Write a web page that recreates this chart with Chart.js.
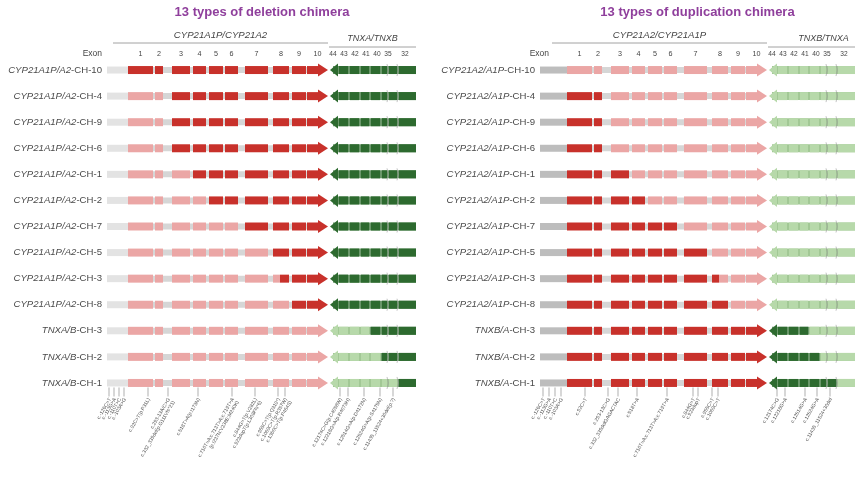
<!DOCTYPE html>
<html>
<head>
<meta charset="utf-8">
<script src="https://cdn.jsdelivr.net/npm/chart.js@4.4.1/dist/chart.umd.min.js"></script>
<style>
  html, body { margin: 0; padding: 0; background: #fff; }
  .panel { position: absolute; top: 0; width: 428px; height: 481px; }
  #left { left: 0; }
  #right { left: 428px; }
</style>
</head>
<body>
<div class="panel" id="left"><canvas id="delChart"></canvas></div>
<div class="panel" id="right"><canvas id="dupChart"></canvas></div>
<script>
// rows, top to bottom
var delRows = ['CYP21A1P/A2-CH-10', 'CYP21A1P/A2-CH-4', 'CYP21A1P/A2-CH-9', 'CYP21A1P/A2-CH-6',
  'CYP21A1P/A2-CH-1', 'CYP21A1P/A2-CH-2', 'CYP21A1P/A2-CH-7', 'CYP21A1P/A2-CH-5',
  'CYP21A1P/A2-CH-3', 'CYP21A1P/A2-CH-8', 'TNXA/B-CH-3', 'TNXA/B-CH-2', 'TNXA/B-CH-1'];
var dupRows = ['CYP21A2/A1P-CH-10', 'CYP21A2/A1P-CH-4', 'CYP21A2/A1P-CH-9', 'CYP21A2/A1P-CH-6',
  'CYP21A2/A1P-CH-1', 'CYP21A2/A1P-CH-2', 'CYP21A2/A1P-CH-7', 'CYP21A2/A1P-CH-5',
  'CYP21A2/A1P-CH-3', 'CYP21A2/A1P-CH-8', 'TNXB/A-CH-3', 'TNXB/A-CH-2', 'TNXB/A-CH-1'];

// gene model (relative units from exon 1 start)
var exonNames = ['1', '2', '3', '4', '5', '6', '7', '8', '9', '10'];
var exonStart = [0, 27, 44, 65, 81, 97, 117, 145, 164, 179];
var exonEnd   = [25, 35, 62, 78, 95, 110, 140, 161, 178, 190];
var arrowTip = 200;
var tnxNames = ['44', '43', '42', '41', '40', '35', '32'];
var tnxStart = [211, 222, 233, 243, 254, 261, 271];
var tnxEnd   = [220, 231, 241, 252, 259, 269, 288];
var tnxMarks = [260, 270];

// junction positions per row (CYP21 part and TNX part)
var delJunction = [-5, 39, 41, 42, 63, 80, 113, 142, 152, 162, 200, 200, 200];
var dupJunction = [-5, 39, 41, 42, 63, 80, 113, 142, 152, 162, 200, 200, 200];
var delTnxJunction = [200, 200, 200, 200, 200, 200, 200, 200, 200, 200, 242, 253, 270];
var dupTnxJunction = [200, 200, 200, 200, 200, 200, 200, 200, 200, 200, 242, 253, 270];

// variants marked under the last row
var delVariants = ['c.-126C>T', 'c.-113G>A', 'c.-110T>C', 'c.-103A>G', 'c.92C>T(p.P31L)',
  'c.293-13A/C>G\nc.332_339del(p.G111Vfs*21)', 'c.518T>A(p.I173N)', 'c.710T>A;c.713T>A;c.719T>A\n(p.I237N;V238E;M240K)',
  'c.844G>T(p.V282L)\nc.923dupT(p.L308Ffs*6)', 'c.955C>T(p.Q319*)', 'c.1069C>T(p.R357W)\nc.1360C>T(p.P454S)',
  'c.12174C>G(p.C4058W)', 'c.12218G>A(p.R4073H)', 'c.12514G>A(p.D4172N)', 'c.12524G>A(p.S4175N)',
  'c.11435_11524+30del(p.?)'];
var delVariantPos = [-19, -14, -9, -4, 20, 40, 70, 104, 127, 150, 157, 212, 220, 236, 252, 265];
var dupVariants = ['c.-126C>T', 'c.-113G>A', 'c.-110T>C', 'c.-103A>G', 'c.92C>T', 'c.293-13C>G',
  'c.332_339delGAGACTAC', 'c.518T>A', 'c.710T>A;c.713T>A;c.719T>A', 'c.844G>T', 'c.923dupT',
  'c.955C>T', 'c.1069C>T', 'c.12174C>G', 'c.12218G>A', 'c.12514G>A', 'c.12524G>A', 'c.11435_11524+30del'];
var dupVariantPos = [-24, -18, -12, -6, 18, 41, 51, 70, 100, 126, 131, 145, 151, 210, 218, 238, 250, 263];

var RED = '#c8312b', PINK = '#eba6a5', DKGREEN = '#2d6a2f', LTGREEN = '#b7d9aa';
var FONT = '"Liberation Sans", Arial, sans-serif';

function seg(s, e, j, part) {
  if (part === 'before') {
    var b = Math.min(e, j);
    return b > s ? [s, b] : null;
  }
  var a = Math.max(s, j);
  return e > a ? [a, e] : null;
}

function bar(data, color, thick) {
  return { data: data, backgroundColor: color, barThickness: thick, grouped: false,
    borderWidth: 0, borderSkipped: false, inflateAmount: 0 };
}

function buildDatasets(cfg) {
  var ds = [];
  ds.push(bar(cfg.rows.map(function () { return [cfg.upStart, 0]; }), cfg.upColor, 7));
  ds.push(bar(cfg.rows.map(function () { return [0, exonEnd[9]]; }), '#d6d6d6', 6));
  ['before', 'after'].forEach(function (part) {
    ds.push(bar(cfg.rows.map(function (_, i) { return seg(205, tnxEnd[6], cfg.tnxJ[i], part); }), cfg.tnxGap[part], 8));
  });
  exonNames.forEach(function (_, k) {
    ['before', 'after'].forEach(function (part) {
      ds.push(bar(cfg.rows.map(function (_, i) { return seg(exonStart[k], exonEnd[k], cfg.cypJ[i], part); }),
        cfg.cypColor[part], 8));
    });
  });
  tnxNames.forEach(function (_, k) {
    ['before', 'after'].forEach(function (part) {
      ds.push(bar(cfg.rows.map(function (_, i) { return seg(tnxStart[k], tnxEnd[k], cfg.tnxJ[i], part); }),
        cfg.tnxColor[part], 8));
    });
  });
  // chart.js paints the first dataset last, so backbone goes to the end
  return ds.reverse();
}

var decor = {
  id: 'decor',
  afterDatasetsDraw: function (chart, args, o) {
    var ctx = chart.ctx, xs = chart.scales.x, ys = chart.scales.y, area = chart.chartArea;
    var px = function (v) { return xs.getPixelForValue(v); };
    ctx.save();

    o.rows.forEach(function (r, i) {
      var y = ys.getPixelForValue(i);
      // CYP21 arrow head
      ctx.fillStyle = o.cypJ[i] <= exonEnd[9] ? o.cypColor.after : o.cypColor.before;
      ctx.beginPath();
      ctx.moveTo(px(exonEnd[9]), y - 6.5);
      ctx.lineTo(px(arrowTip), y);
      ctx.lineTo(px(exonEnd[9]), y + 6.5);
      ctx.closePath();
      ctx.fill();
      // TNX arrow head
      ctx.fillStyle = o.tnxJ[i] <= arrowTip ? o.tnxColor.after : o.tnxColor.before;
      ctx.beginPath();
      ctx.moveTo(px(tnxStart[0] - 1), y - 6.5);
      ctx.lineTo(px(arrowTip) + 2, y);
      ctx.lineTo(px(tnxStart[0] - 1), y + 6.5);
      ctx.closePath();
      ctx.fill();
      // small marks on TNX
      ctx.strokeStyle = '#9a9a9a';
      ctx.lineWidth = 0.6;
      tnxMarks.forEach(function (m) {
        var x = px(m);
        ctx.beginPath();
        ctx.moveTo(x - 1, y - 6);
        ctx.quadraticCurveTo(x + 1.8, y, x - 1, y + 6);
        ctx.stroke();
      });
      // row label: gene part italic, chimera number upright
      var mt = r.match(/^(.*?)(-CH-\d+)$/);
      var xr = area.left - 4;
      ctx.fillStyle = '#4a4a4a';
      ctx.textBaseline = 'middle';
      ctx.textAlign = 'left';
      ctx.font = '9.6px ' + FONT;
      var wRest = ctx.measureText(mt[2]).width;
      ctx.fillText(mt[2], xr - wRest, y);
      ctx.font = 'italic 9.6px ' + FONT;
      var wGene = ctx.measureText(mt[1]).width;
      ctx.fillText(mt[1], xr - wRest - wGene, y);
    });

    // header: exon numbers
    var ty = area.top - 3;
    ctx.fillStyle = '#444';
    ctx.textBaseline = 'middle';
    ctx.textAlign = 'center';
    ctx.font = '7.2px ' + FONT;
    exonNames.forEach(function (nm, k) {
      var end = k === exonNames.length - 1 ? arrowTip : exonEnd[k];
      ctx.fillText(nm, px((exonStart[k] + end) / 2), ty);
    });
    ctx.font = '6.6px ' + FONT;
    tnxNames.forEach(function (nm, k) {
      var x = k < tnxNames.length - 1 ? px(arrowTip) + 5 + k * 11 : px(tnxStart[k]) + 6;
      ctx.fillText(nm, x, ty);
    });
    ctx.textAlign = 'right';
    ctx.font = '8.5px ' + FONT;
    ctx.fillText('Exon', area.left - 4 + o.exonShift, ty);

    // gene group headers
    ctx.strokeStyle = '#8a8a8a';
    ctx.lineWidth = 0.8;
    var gx0 = px(-15), gx1 = px(arrowTip);
    ctx.beginPath(); ctx.moveTo(gx0, area.top - 14); ctx.lineTo(gx1, area.top - 14); ctx.stroke();
    var tx0 = px(arrowTip + 1), tx1 = Math.min(px(tnxEnd[6]), chart.width);
    ctx.beginPath(); ctx.moveTo(tx0, area.top - 10); ctx.lineTo(tx1, area.top - 10); ctx.stroke();
    ctx.textAlign = 'center';
    ctx.font = 'italic 9.6px ' + FONT;
    ctx.fillText(o.geneHeader, (gx0 + gx1) / 2, area.top - 22);
    ctx.font = 'italic 9px ' + FONT;
    ctx.fillText(o.tnxHeader, (tx0 + tx1) / 2 + o.tnxHeaderShift, area.top - 19);

    // variant annotations under the last row
    var yb = ys.getPixelForValue(o.rows.length - 1) + 4.5;
    ctx.strokeStyle = '#7a7a7a';
    ctx.lineWidth = 0.6;
    ctx.fillStyle = '#555';
    o.variants.forEach(function (lab, k) {
      var x = px(o.variantPos[k]);
      ctx.beginPath(); ctx.moveTo(x, yb); ctx.lineTo(x, yb + 9); ctx.stroke();
      ctx.save();
      ctx.translate(x + 1, yb + 11);
      ctx.rotate(-Math.PI / 3);
      ctx.textAlign = 'right';
      ctx.textBaseline = 'middle';
      ctx.font = '5px ' + FONT;
      lab.split('\n').forEach(function (ln, li) { ctx.fillText(ln, 0, li * 5.5); });
      ctx.restore();
    });
    ctx.restore();
  }
};

function makeChart(id, cfg) {
  return new Chart(document.getElementById(id), {
    type: 'bar',
    data: { labels: cfg.rows, datasets: buildDatasets(cfg) },
    options: {
      indexAxis: 'y',
      responsive: true,
      maintainAspectRatio: false,
      animation: false,
      events: [],
      layout: { padding: cfg.padding },
      scales: {
        x: { type: 'linear', display: false, min: cfg.xMin, max: cfg.xMax },
        y: { type: 'category', display: false, offset: true }
      },
      plugins: {
        legend: { display: false },
        tooltip: { enabled: false },
        title: {
          display: true,
          text: cfg.title,
          color: '#8f3f9c',
          font: { family: FONT, size: 13, weight: 'bold' },
          padding: { top: 5, bottom: 36.4 }
        },
        decor: {
          rows: cfg.rows, cypJ: cfg.cypJ, tnxJ: cfg.tnxJ,
          cypColor: cfg.cypColor, tnxColor: cfg.tnxColor,
          geneHeader: cfg.geneHeader, tnxHeader: cfg.tnxHeader,
          tnxHeaderShift: cfg.tnxHeaderShift, exonShift: cfg.exonShift,
          variants: cfg.variants, variantPos: cfg.variantPos
        }
      }
    },
    plugins: [decor]
  });
}

makeChart('delChart', {
  rows: delRows, cypJ: delJunction, tnxJ: delTnxJunction,
  title: '13 types of deletion chimera',
  geneHeader: 'CYP21A1P/CYP21A2', tnxHeader: 'TNXA/TNXB', tnxHeaderShift: 0, exonShift: 0,
  upStart: -21, upColor: '#e3e3e3',
  cypColor: { before: PINK, after: RED },
  tnxColor: { before: LTGREEN, after: DKGREEN },
  tnxGap: { before: '#a2c895', after: '#6a976a' },
  variants: delVariants, variantPos: delVariantPos,
  xMin: -22, xMax: 290,
  padding: { left: 106, right: 10, top: 0, bottom: 85 }
});

makeChart('dupChart', {
  rows: dupRows, cypJ: dupJunction, tnxJ: dupTnxJunction,
  title: '13 types of duplication chimera',
  geneHeader: 'CYP21A2/CYP21A1P', tnxHeader: 'TNXB/TNXA', tnxHeaderShift: 12, exonShift: 14,
  upStart: -27, upColor: '#bdbdbd',
  cypColor: { before: RED, after: PINK },
  tnxColor: { before: DKGREEN, after: LTGREEN },
  tnxGap: { before: '#6a976a', after: '#a2c895' },
  variants: dupVariants, variantPos: dupVariantPos,
  xMin: -28, xMax: 289,
  padding: { left: 111, right: 0, top: 0, bottom: 85 }
});
</script>
</body>
</html>
